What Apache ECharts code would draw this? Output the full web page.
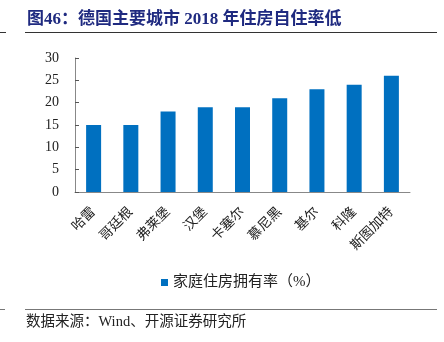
<!DOCTYPE html>
<html><head><meta charset="utf-8">
<script src="https://cdn.jsdelivr.net/npm/echarts@6/dist/echarts.min.js"></script>
<style>html,body{margin:0;padding:0;background:#fff}#c{width:444px;height:342px}</style>
</head><body><div id="c"></div>
<script>
const categories = ['哈雷','哥廷根','弗莱堡','汉堡','卡塞尔','慕尼黑','基尔','科隆','斯图加特'];
const ownershipRate = [15, 15, 18, 19, 19, 21, 23, 24, 26];
const seriesName = '家庭住房拥有率（%）';
const titleText = '图46：德国主要城市 2018 年住房自住率低';
const sourceText = '数据来源：Wind、开源证券研究所';

const FONT = '"Liberation Serif", "Noto Sans CJK SC", serif';
const chart = echarts.init(document.getElementById('c'), null, {renderer: 'canvas'});
chart.setOption({
  animation: false,
  backgroundColor: '#fff',
  grid: {left: 75, right: 34, top: 58, bottom: 150},
  legend: {
    data: [seriesName], top: 270, left: 156,
    itemWidth: 7, itemHeight: 7, icon: 'rect', itemGap: 4,
    textStyle: {fontFamily: FONT, fontSize: 15, color: '#222'}
  },
  xAxis: {
    type: 'category', data: categories,
    axisLine: {lineStyle: {color: '#888'}},
    axisTick: {inside: true, length: 4, lineStyle: {color: '#555'}},
    axisLabel: {rotate: 45, fontFamily: FONT, fontSize: 13.5, color: '#222', margin: 18, interval: 0}
  },
  yAxis: {
    type: 'value', min: 0, max: 30, interval: 5,
    axisLine: {show: true, lineStyle: {color: '#888'}},
    axisTick: {show: true, inside: true, length: 4, lineStyle: {color: '#555'}},
    splitLine: {show: false},
    axisLabel: {fontFamily: FONT, fontSize: 14, color: '#222', margin: 16}
  },
  series: [{
    name: seriesName, type: 'bar', data: ownershipRate, barWidth: 15,
    itemStyle: {color: '#0070C0'}
  }],
  graphic: [
    {type: 'text', left: 27, top: 11, style: {text: titleText, font: 'bold 17px ' + FONT, fill: '#1F2A80'}},
    {type: 'line', shape: {x1: 0, y1: 32.5, x2: 6, y2: 32.5}, style: {stroke: '#333', lineWidth: 1}},
    {type: 'line', shape: {x1: 25, y1: 32.5, x2: 437, y2: 32.5}, style: {stroke: '#333', lineWidth: 1}},
    {type: 'line', shape: {x1: 0, y1: 309.5, x2: 5, y2: 309.5}, style: {stroke: '#777', lineWidth: 1}},
    {type: 'line', shape: {x1: 25, y1: 309.5, x2: 437, y2: 309.5}, style: {stroke: '#777', lineWidth: 1}},
    {type: 'text', left: 26, top: 315, style: {text: sourceText, font: '14.5px ' + FONT, fill: '#222'}}
  ]
});
</script></body></html>
